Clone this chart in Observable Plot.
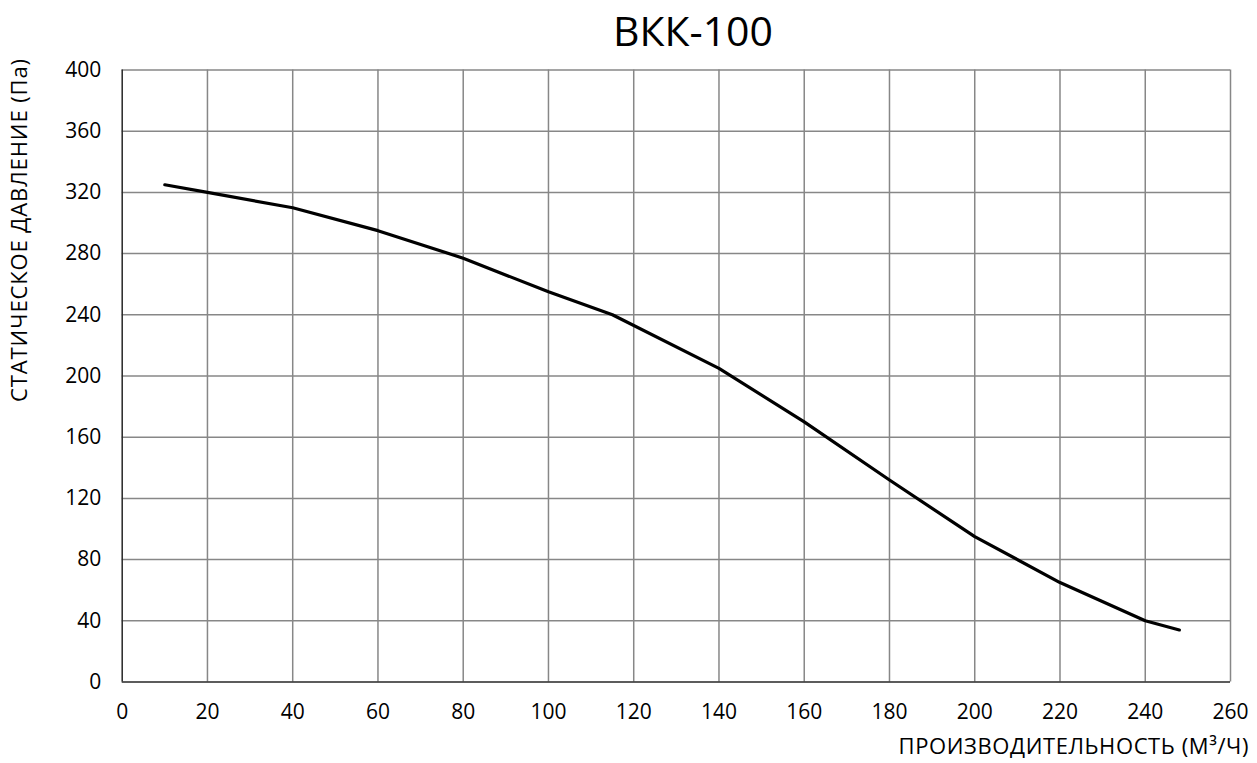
<!DOCTYPE html>
<html>
<head>
<meta charset="utf-8">
<script src="https://cdn.jsdelivr.net/npm/d3@7"></script>
<script src="https://cdn.jsdelivr.net/npm/@observablehq/plot@0.6"></script>
<style>
  html, body { margin: 0; padding: 0; background: #fff; }
  #wrap { position: relative; width: 1257px; height: 763px; font-family: "Open Sans", sans-serif; color: #000; }
  #title { position: absolute; left: 693px; top: 10px; transform: translateX(-50%); font-size: 41px; line-height: 1; white-space: nowrap; }
  #ylab { position: absolute; left: 18px; top: 58px; transform-origin: 0 0; transform: rotate(-90deg) translateX(-100%) translateY(-50%); font-size: 22px; letter-spacing: 0.9px; line-height: 1.2; white-space: nowrap; }
  #xlab { position: absolute; right: 8px; top: 732px; font-size: 22px; letter-spacing: 0.6px; line-height: 1.2; white-space: nowrap; }
  #chart { position: absolute; left: 0; top: 0; }
</style>
</head>
<body>
<div id="wrap">
  <div id="chart"></div>
  <div id="title">ВКК-100</div>
  <div id="ylab">СТАТИЧЕСКОЕ ДАВЛЕНИЕ (Па)</div>
  <div id="xlab">ПРОИЗВОДИТЕЛЬНОСТЬ (М³/Ч)</div>
</div>
<script>
const flow = [10, 20, 40, 60, 80, 100, 115, 140, 160, 180, 200, 220, 240, 248];
const pressure = [325, 320, 310, 295, 277, 255, 240, 205, 170, 132, 95, 65, 40, 34];
const xTicks = [0, 20, 40, 60, 80, 100, 120, 140, 160, 180, 200, 220, 240, 260];
const yTicks = [0, 40, 80, 120, 160, 200, 240, 280, 320, 360, 400];

const data = flow.map((f, i) => ({flow: f, pressure: pressure[i]}));

const plot = Plot.plot({
  width: 1257,
  height: 763,
  marginTop: 69.5,
  marginBottom: 81.5,
  marginLeft: 121.7,
  marginRight: 27,
  style: {fontFamily: "'Open Sans', sans-serif", fontSize: "21px", color: "#000", background: "#fff"},
  x: {domain: [0, 260], ticks: xTicks},
  y: {domain: [0, 400], ticks: yTicks},
  marks: [
    Plot.gridX(xTicks.filter(d => d > 0), {stroke: "#878787", strokeOpacity: 1, strokeWidth: 1.5}),
    Plot.gridY(yTicks.filter(d => d > 0), {stroke: "#878787", strokeOpacity: 1, strokeWidth: 1.5}),
    Plot.ruleX([0], {stroke: "#262626", strokeWidth: 1.5}),
    Plot.ruleY([0], {stroke: "#262626", strokeWidth: 1.5}),
    Plot.axisX(xTicks, {tickSize: 0, tickPadding: 22, label: null, fill: "#000"}),
    Plot.axisY(yTicks, {tickSize: 0, tickPadding: 21, label: null, fill: "#000"}),
    Plot.line(data, {x: "flow", y: "pressure", stroke: "#000", strokeWidth: 3.2, strokeLinejoin: "round", strokeLinecap: "round"})
  ]
});
document.getElementById("chart").appendChild(plot);
</script>
</body>
</html>
